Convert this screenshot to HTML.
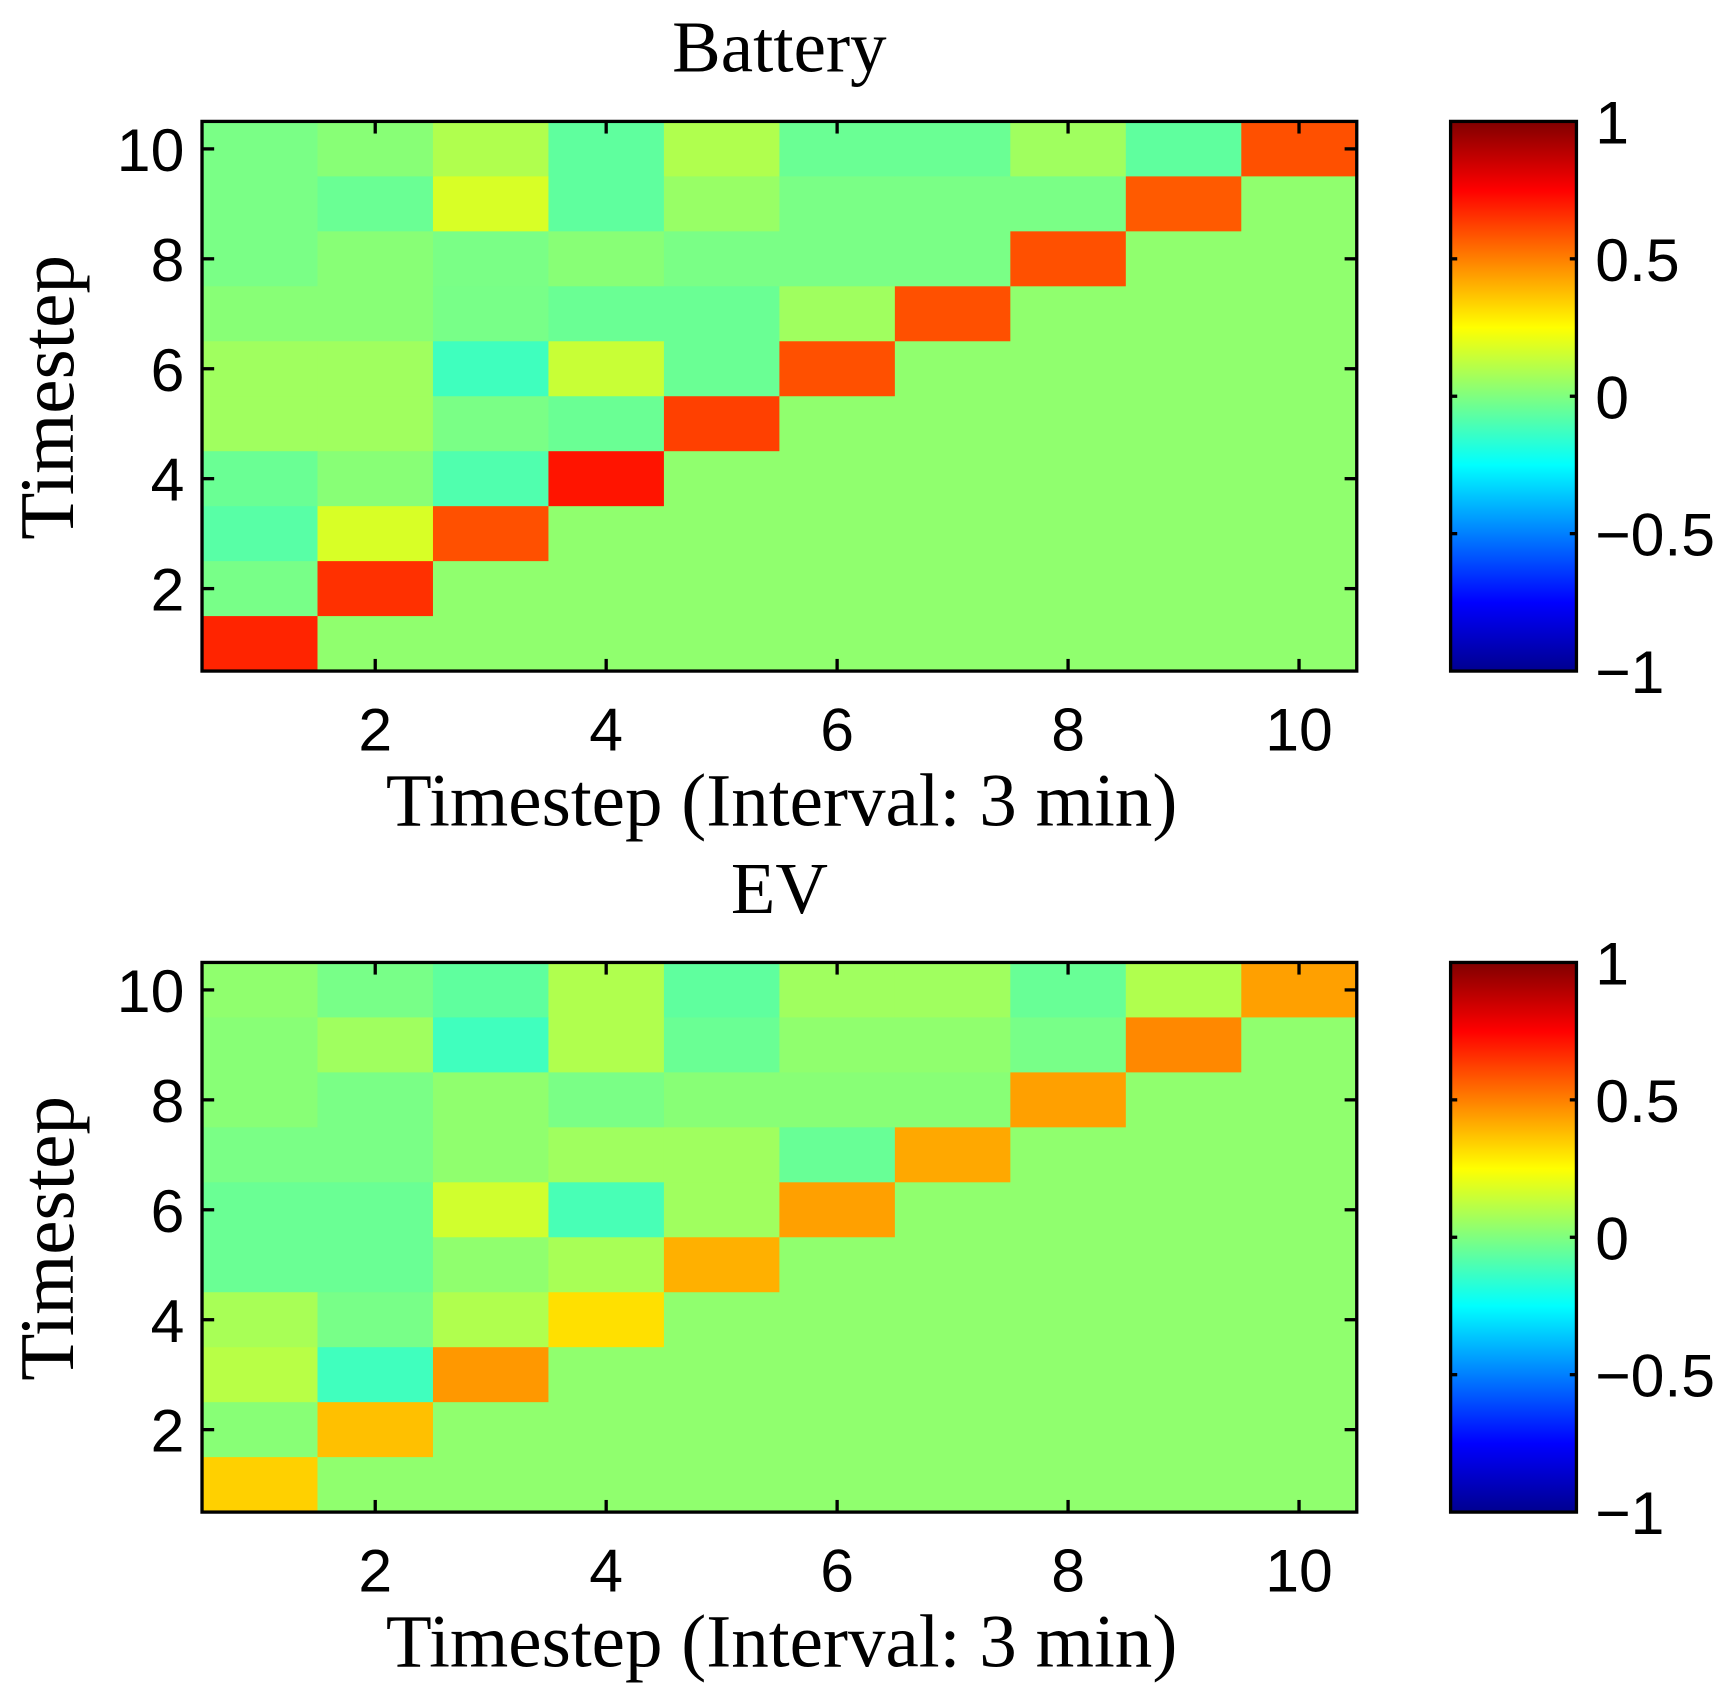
<!DOCTYPE html>
<html><head><meta charset="utf-8"><style>html,body{margin:0;padding:0;background:#fff}svg{display:block}</style></head>
<body>
<svg width="1731" height="1692" viewBox="0 0 1568 1533" preserveAspectRatio="none" xmlns="http://www.w3.org/2000/svg">
<defs>
<linearGradient id="jet" x1="0" y1="0" x2="0" y2="1">
<stop offset="0" stop-color="#800000"/>
<stop offset="0.125" stop-color="#ff0000"/>
<stop offset="0.375" stop-color="#ffff00"/>
<stop offset="0.625" stop-color="#00ffff"/>
<stop offset="0.875" stop-color="#0000ff"/>
<stop offset="1" stop-color="#00008f"/>
</linearGradient>
</defs>
<g id="plots"></g>
</svg>
<script>
const G='#90ff6e';
const bat=[
['#7aff86','#88ff76','#b0ff4e','#5fff9e','#b0ff4e','#6aff94','#6aff94','#a0ff5f','#5fff9e','#ff5000'],
['#7aff86','#6aff94','#d8ff26','#5fff9e','#98ff66','#7aff86','#7aff86','#7aff86','#ff5a00',G],
['#7aff86','#88ff76','#7aff86','#88ff76','#7aff86','#7aff86','#7aff86','#ff5000',G,G],
['#88ff76','#88ff76','#78ff88','#6aff94','#6aff94','#a0ff5f','#ff5000',G,G,G],
['#a0ff5f','#a0ff5f','#3fffbe','#c8ff36','#6aff94','#ff5000',G,G,G,G],
['#a0ff5f','#a0ff5f','#7aff86','#6aff94','#ff4000',G,G,G,G,G],
['#6aff94','#88ff76','#50ffae','#ff1400',G,G,G,G,G,G],
['#58ffa6','#d8ff26','#ff5000',G,G,G,G,G,G,G],
['#78ff88','#ff3000',G,G,G,G,G,G,G,G],
['#ff2400',G,G,G,G,G,G,G,G,G]];
const ev=[
['#90ff6e','#78ff88','#5fff9e','#b0ff4e','#5fff9e','#a0ff5f','#a0ff5f','#68ff96','#b0ff4e','#ffa000'],
['#88ff76','#a0ff5f','#40ffbe','#b0ff4e','#6aff94','#90ff6e','#90ff6e','#78ff88','#ff8800',G],
['#88ff76','#7aff86','#90ff6e','#7aff86','#88ff76','#88ff76','#88ff76','#ffa000',G,G],
['#7aff86','#7aff86','#90ff6e','#a0ff5f','#a0ff5f','#68ff96','#ffa800',G,G,G],
['#6aff94','#6aff94','#d0ff2e','#48ffb6','#a0ff5f','#ffa000',G,G,G,G],
['#6aff94','#6aff94','#90ff6e','#a8ff56','#ffb000',G,G,G,G,G],
['#a8ff56','#78ff88','#b0ff4e','#ffe000',G,G,G,G,G,G],
['#b8ff46','#40ffbe','#ff9800',G,G,G,G,G,G,G],
['#88ff76','#ffc000',G,G,G,G,G,G,G,G],
['#ffd000',G,G,G,G,G,G,G,G,G]];
let s='';
const X0=183,X1=1229,CW=(X1-X0)/10,H=498,CH=H/10;
function plot(d,oy,title){
 const Y0=110+oy,Y1=Y0+H;
 for(let r=0;r<10;r++)for(let c=0;c<10;c++)
  s+=`<rect x="${X0+c*CW}" y="${Y0+r*CH}" width="${CW+0.6}" height="${CH+0.6}" fill="${d[r][c]}"/>`;
 s+=`<rect x="${X0}" y="${Y0}" width="${X1-X0}" height="${H}" fill="none" stroke="#000" stroke-width="3"/>`;
 for(let k=2;k<=10;k+=2){
  const x=X0+(k-0.5)*CW, y=Y1-(k-0.5)*CH;
  s+=`<line x1="${x}" y1="${Y1}" x2="${x}" y2="${Y1-11}" stroke="#000" stroke-width="3"/><line x1="${x}" y1="${Y0}" x2="${x}" y2="${Y0+11}" stroke="#000" stroke-width="3"/>`;
  s+=`<line x1="${X0}" y1="${y}" x2="${X0+11}" y2="${y}" stroke="#000" stroke-width="3"/><line x1="${X1}" y1="${y}" x2="${X1-11}" y2="${y}" stroke="#000" stroke-width="3"/>`;
  s+=`<text x="${x}" y="${Y1+72}" font-family="Liberation Sans,sans-serif" font-size="55" text-anchor="middle">${k}</text>`;
  s+=`<text x="${167}" y="${y+20}" font-family="Liberation Sans,sans-serif" font-size="55" text-anchor="end">${k}</text>`;
 }
 s+=`<text x="706" y="${65+oy}" font-family="Liberation Serif,serif" font-size="66" text-anchor="middle">${title}</text>`;
 s+=`<text x="708" y="${748+oy}" font-family="Liberation Serif,serif" font-size="68" text-anchor="middle">Timestep (Interval: 3 min)</text>`;
 s+=`<text transform="translate(66,${360+oy}) rotate(-90)" font-family="Liberation Serif,serif" font-size="70" text-anchor="middle">Timestep</text>`;
 s+=`<rect x="1314" y="${Y0}" width="114" height="${H}" fill="url(#jet)" stroke="#000" stroke-width="3"/>`;
 const labs=['1','0.5','0','\u22120.5','\u22121'];
 for(let i=0;i<5;i++){
  const y=Y0+i*H/4;
  if(i>0&&i<4) s+=`<line x1="1314" y1="${y}" x2="1320" y2="${y}" stroke="#000" stroke-width="3"/><line x1="1428" y1="${y}" x2="1422" y2="${y}" stroke="#000" stroke-width="3"/>`;
  s+=`<text x="1445" y="${y+20}" font-family="Liberation Sans,sans-serif" font-size="55">${labs[i]}</text>`;
 }
}
plot(bat,0,'Battery');
plot(ev,762,'EV');
document.getElementById('plots').innerHTML=s;
</script>
</body></html>
